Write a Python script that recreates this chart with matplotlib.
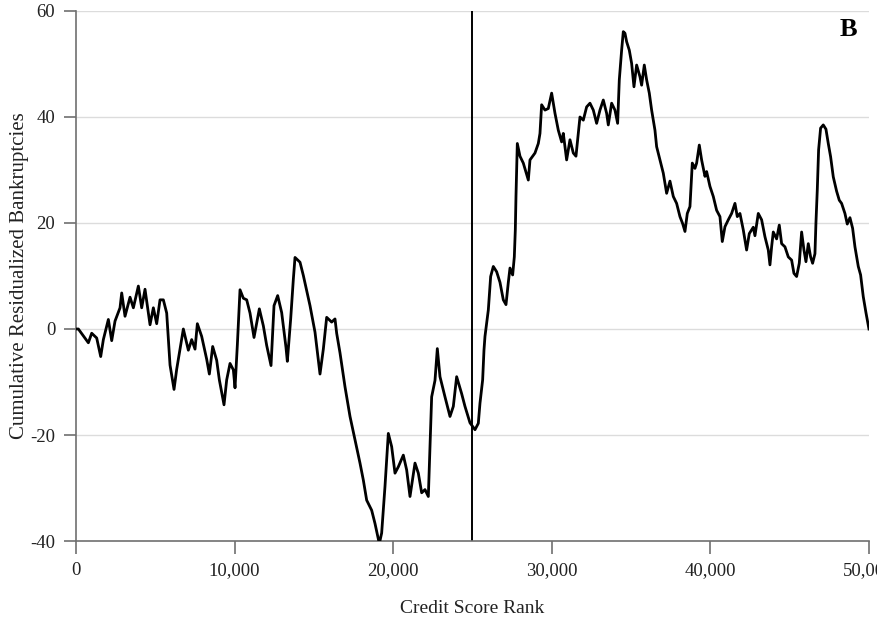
import matplotlib
matplotlib.use('Agg')
import matplotlib.pyplot as plt
from matplotlib.ticker import FuncFormatter

plt.rcParams['font.family'] = ['Liberation Serif', 'DejaVu Serif']
plt.rcParams['axes.unicode_minus'] = False

# credit score rank (x) and cumulative residualized bankruptcies (y)
rank = [0, 147, 462, 777, 988, 1303, 1556, 1723, 2038, 2249, 2459, 2774, 2880, 3089,
        3405, 3615, 3930, 4140, 4350, 4666, 4876, 5086, 5296, 5506, 5717, 5927, 6179,
        6347, 6767, 7082, 7293, 7503, 7650, 7923, 8238, 8407, 8617, 8869, 9037, 9331,
        9500, 9710, 9920, 10025, 10172, 10340, 10550, 10761, 10971, 11223, 11559, 11811,
        12022, 12295, 12484, 12715, 12967, 13240, 13324, 13535, 13703, 13808, 14123,
        14333, 14754, 15069, 15384, 15594, 15805, 16120, 16330, 16435, 16645, 16960,
        17276, 17591, 17906, 18116, 18327, 18642, 18852, 19125, 19272, 19482, 19692,
        19903, 20113, 20323, 20638, 20849, 21059, 21374, 21584, 21795, 22005, 22215,
        22320, 22425, 22635, 22782, 22950, 23265, 23581, 23791, 24001, 24316, 24526,
        24842, 25157, 25367, 25472, 25640, 25724, 25787, 25998, 26145, 26313, 26523,
        26733, 26943, 27112, 27259, 27364, 27532, 27637, 27700, 27742, 27826, 27994,
        28204, 28520, 28625, 28940, 29150, 29255, 29360, 29570, 29780, 29991, 30201,
        30411, 30621, 30726, 30936, 31147, 31357, 31525, 31672, 31777, 31987, 32197,
        32408, 32618, 32828, 33038, 33248, 33458, 33563, 33774, 33984, 34152, 34257,
        34404, 34509, 34614, 34720, 34888, 35035, 35182, 35350, 35560, 35665, 35833,
        35981, 36149, 36296, 36506, 36611, 36821, 37031, 37242, 37452, 37662, 37872,
        38082, 38250, 38398, 38545, 38713, 38860, 39028, 39133, 39301, 39448, 39659,
        39764, 39974, 40184, 40394, 40604, 40751, 40920, 41130, 41340, 41550, 41697,
        41865, 42075, 42285, 42454, 42706, 42811, 43021, 43232, 43442, 43652, 43757,
        43862, 43967, 44177, 44345, 44493, 44703, 44913, 45123, 45270, 45438, 45606,
        45754, 45901, 46027, 46174, 46321, 46447, 46594, 46657, 46741, 46825, 46951,
        47119, 47288, 47435, 47582, 47750, 47960, 48128, 48275, 48485, 48632, 48802,
        48970, 49117, 49327, 49474, 49641, 49810, 50000]
cum_resid = [0, 0, -1.3, -2.6, -0.8, -1.7, -5.2, -2, 1.8, -2.2, 1.5, 4, 6.8, 2.4,
             6, 4, 8.1, 4, 7.5, 0.8, 4, 1, 5.5, 5.5, 3, -6.8, -11.4,
             -7.6, 0, -4, -2, -3.8, 1, -1.4, -5.7, -8.5, -3.3, -5.9, -9.6, -14.3,
             -9.6, -6.5, -7.7, -11.1, -3, 7.4, 5.8, 5.5, 3, -1.6, 3.8, 0.6,
             -3.1, -6.9, 4.4, 6.3, 3.1, -3.5, -6.1, 1.9, 9.4, 13.5, 12.6,
             10.1, 4.4, -0.6, -8.5, -3.8, 2.2, 1.3, 1.9, -0.8, -4.5, -10.9,
             -16.5, -20.9, -25.3, -28.5, -32.3, -34.2, -36.7, -40.5, -38.5, -29.7, -19.7,
             -22.2, -27.2, -26, -23.8, -26.6, -31.6, -25.3, -27.2, -30.9, -30.3, -31.6,
             -22.2, -12.8, -9.7, -3.7, -9, -12.8, -16.5, -14.6, -9, -12.2, -14.6,
             -17.7, -19, -17.8, -14, -9.6, -4, -1.4, 3.6, 9.9, 11.8, 10.8,
             8.8, 5.5, 4.6, 8.8, 11.5, 10.2, 13.6, 18.7, 25, 35, 32.6,
             31.3, 28.1, 31.9, 33.2, 35, 36.9, 42.3, 41.3, 41.6, 44.5, 40.7,
             37.5, 35.3, 36.9, 31.9, 35.7, 33.2, 32.6, 36.9, 40, 39.4, 41.9,
             42.6, 41.3, 38.8, 41.3, 43.2, 40.7, 38.5, 42.6, 41.3, 38.8, 47,
             52.6, 56.1, 55.8, 54.2, 52.6, 50.1, 45.7, 49.8, 47.6, 46, 49.8,
             47, 44.5, 41.3, 37.5, 34.4, 31.9, 29.4, 25.6, 27.9, 25, 23.7,
             21.2, 19.9, 18.4, 21.8, 23.1, 31.3, 30.3, 31.3, 34.7, 31.9, 28.8,
             29.7, 26.9, 25, 22.4, 21.2, 16.5, 19.3, 20.6, 21.8, 23.7, 21.2,
             21.8, 18.7, 14.9, 18, 19.2, 17.6, 21.8, 20.6, 17.4, 14.9, 12.1,
             15.5, 18.3, 17, 19.6, 16.1, 15.5, 13.6, 13, 10.5, 9.9, 12.4,
             18.3, 14.9, 12.7, 16.1, 13.6, 12.4, 14.2, 20, 26.2, 33.8, 37.9,
             38.5, 37.7, 35, 32.5, 28.7, 26, 24.3, 23.7, 21.8, 19.8, 21,
             19, 15.5, 11.8, 10.2, 6.1, 3.1, 0]

midpoint = 25000
xticks = [0, 10000, 20000, 30000, 40000, 50000]
yticks = [-40, -20, 0, 20, 40, 60]

fig = plt.figure(figsize=(8.78, 6.2), dpi=100)
ax = fig.add_axes([0.0866, 0.1274, 0.9031, 0.8549])

for yv in yticks[1:]:
    ax.axhline(yv, color='#dcdcdc', lw=1.0, zorder=1)
ax.axvline(midpoint, color='black', lw=1.4, zorder=2)
ax.plot(rank, cum_resid, color='black', lw=2.0, zorder=3)

ax.set_xlim(0, 50000)
ax.set_ylim(-40, 60)
ax.set_xticks(xticks)
ax.set_yticks(yticks)
ax.xaxis.set_major_formatter(FuncFormatter(lambda v, p: f'{int(v):,}'))

for side in ['top', 'right']:
    ax.spines[side].set_visible(False)
for side in ['left', 'bottom']:
    ax.spines[side].set_color('#707070')
    ax.spines[side].set_linewidth(1.2)
ax.tick_params(axis='both', direction='out', length=9, width=1.2, color='#707070',
               labelsize=13.5, labelcolor='#222222', pad=6)

ax.set_xlabel('Credit Score Rank', fontsize=14, color='#222222', labelpad=15)
ax.set_ylabel('Cumulative Residualized Bankruptcies', fontsize=15, color='#222222', labelpad=1)

ax.text(0.985, 0.965, 'B', transform=ax.transAxes, ha='right', va='center',
        fontsize=19, fontweight='bold', color='black')

fig.savefig('out.png', dpi=100)
